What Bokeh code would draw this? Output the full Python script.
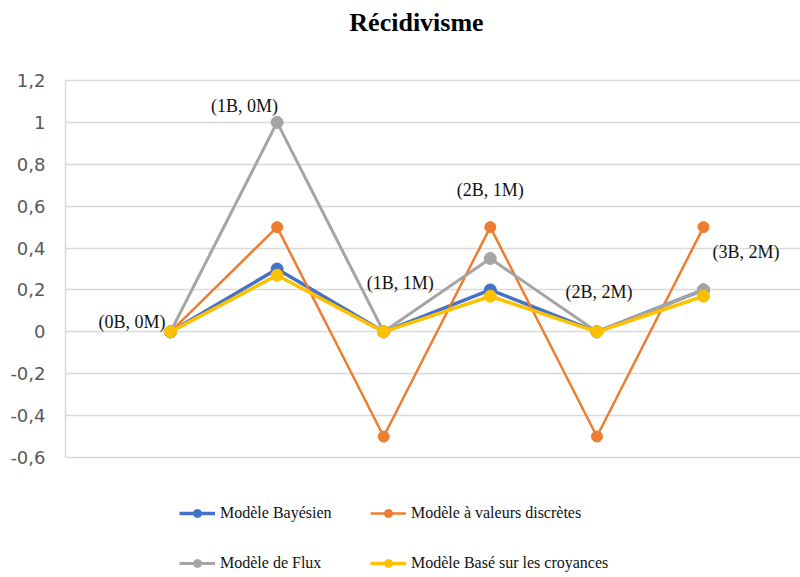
from bokeh.plotting import figure
from bokeh.models import Range1d, FixedTicker, CustomJSTickFormatter, Legend, LegendItem, ColumnDataSource, Label
from bokeh.core.properties import value
from bokeh.embed import file_html
from bokeh.resources import INLINE

# ---- data ----
categories = [0, 1, 2, 3, 4, 5]
point_labels = ["(0B, 0M)", "(1B, 0M)", "(1B, 1M)", "(2B, 1M)", "(2B, 2M)", "(3B, 2M)"]
bayesien = [0, 0.3, 0, 0.2, 0, 0.2]
discretes = [0, 0.5, -0.5, 0.5, -0.5, 0.5]
flux = [0, 1.0, 0, 0.35, 0, 0.2]
croyances = [0, 0.27, 0, 0.17, 0, 0.17]
series_names = ["Modèle Bayésien", "Modèle à valeurs discrètes", "Modèle de Flux",
                "Modèle Basé sur les croyances"]
y_ticks = [-0.6, -0.4, -0.2, 0, 0.2, 0.4, 0.6, 0.8, 1.0, 1.2]
y_tick_labels = ["-0,6", "-0,4", "-0,2", "0", "0,2", "0,4", "0,6", "0,8", "1", "1,2"]
title_text = "Récidivisme"

# ---- styles ----
colors = ["#4472C4", "#ED7D31", "#A5A5A5", "#FFC000"]
widths = [3.5, 2.5, 3.0, 3.5]
sizes = [12, 11, 12, 12]
label_align = ["right", "right", "left", "center", "center", "left"]
label_dx = [-5, 1, -17, 0, 2, 9]
label_dy = [-10, -16, -49, -69, -40, -38]

p = figure(width=800, height=577, output_backend="svg", toolbar_location=None,
           x_range=Range1d(-0.985, 5.91), y_range=Range1d(-1.173, 1.582),
           min_border_left=65, min_border_right=0, min_border_top=0, min_border_bottom=0)
p.outline_line_color = None
p.background_fill_color = "white"
p.border_fill_color = "white"

# chart title, positioned in screen pixels from the frame's bottom-left corner
p.add_layout(Label(x=351, y=555, x_units="screen", y_units="screen", text=title_text,
                   text_font="Liberation Serif", text_font_style="bold",
                   text_font_size="26px", text_align="center", text_baseline="middle",
                   text_color="#000000"))

p.xaxis.visible = False
p.xgrid.grid_line_color = None
p.ygrid.grid_line_color = "#d9d9d9"
p.ygrid.grid_line_width = 1.5
p.yaxis.ticker = FixedTicker(ticks=y_ticks)
p.yaxis.bounds = (y_ticks[0], y_ticks[-1])
p.yaxis.formatter = CustomJSTickFormatter(args=dict(tvals=y_ticks, tlabels=y_tick_labels), code="""
let best = 0; let bd = 1e9;
for (let i = 0; i < tvals.length; i++) { const d = Math.abs(tvals[i] - tick); if (d < bd) { bd = d; best = i; } }
return tlabels[best];
""")
p.yaxis.axis_line_color = "#d9d9d9"
p.yaxis.axis_line_width = 1.5
p.yaxis.major_tick_line_color = None
p.yaxis.minor_tick_line_color = None
p.yaxis.major_label_standoff = 14
p.yaxis.major_label_text_font = "DejaVu Sans"
p.yaxis.major_label_text_font_size = "18px"
p.yaxis.major_label_text_color = "#595959"

items = []
for name, ys, c, w, s in zip(series_names, [bayesien, discretes, flux, croyances], colors, widths, sizes):
    src = ColumnDataSource(dict(x=categories, y=ys))
    lr = p.line("x", "y", source=src, line_color=c, line_width=w)
    sr = p.scatter("x", "y", source=src, size=s, fill_color=c, line_color=c)
    items.append(LegendItem(label=name, renderers=[lr, sr]))

lab_src = ColumnDataSource(dict(x=categories, y=flux, text=point_labels,
                                align=label_align, dx=label_dx, dy=label_dy))
p.text("x", "y", text="text", source=lab_src, x_offset="dx", y_offset="dy",
       text_align="align", text_baseline="middle",
       text_font=value("Liberation Serif"), text_font_size="18px", text_color="#111111")

legend = Legend(items=items, ncols=2, location=(114, 4), orientation="horizontal",
                border_line_color=None, background_fill_alpha=0, padding=0, margin=0,
                spacing=30, glyph_width=36, glyph_height=20, label_height=20,
                label_width=120, label_standoff=5,
                label_text_font="Liberation Serif", label_text_font_size="16px",
                label_text_color="#111111")
p.add_layout(legend)

open("out.html", "w").write(file_html(p, INLINE))
